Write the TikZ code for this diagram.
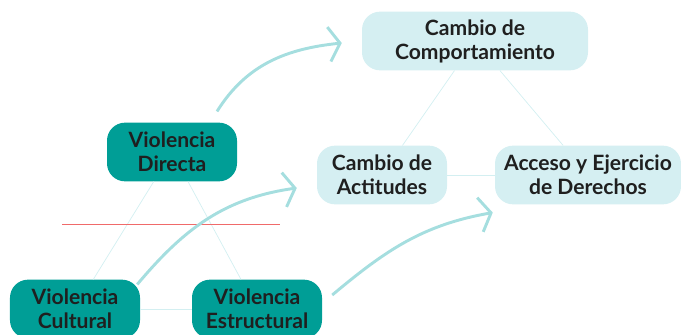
\documentclass[tikz,border=0pt]{standalone}
\usepackage{fontspec}
\setmainfont{Lato}
\usetikzlibrary{arrows.meta}
\definecolor{tealdark}{HTML}{009E96}
\definecolor{tealpale}{HTML}{D5EFF2}
\definecolor{arrowcyan}{HTML}{A5DEDF}
\definecolor{linkcyan}{HTML}{D3EFF1}
\definecolor{redline}{HTML}{F06A6A}
\begin{document}
\begin{tikzpicture}[x=0.3mm,y=0.3mm,
    box/.style={rounded corners=5.4mm,align=center,inner sep=0pt,
      minimum width=39mm,minimum height=17.6mm,text=black!88,
      font=\fontsize{18}{20.5}\selectfont\bfseries},
    violence/.style={box,fill=tealdark},
    change/.style={box,fill=tealpale},
    link/.style={draw=linkcyan,line width=0.6pt},
    flow/.style={draw=arrowcyan,line width=2.5pt,
      -{Straight Barb[length=3.3mm,width=10.4mm]}}]
    \useasboundingbox (0,0) rectangle (681,-334);
    \node[violence] (directa) at (172,-152) {Violencia\\Directa};
    \node[violence] (cultural) at (75,-309) {Violencia\\Cultural};
    \node[violence] (estructural) at (257,-309) {Violencia\\Estructural};
    \node[change,minimum width=67.8mm] (comportamiento) at (475,-41) {Cambio de\\Comportamiento};
    \node[change] (actitudes) at (382,-175) {Cambio de\\Actitudes};
    \node[change,minimum width=55.8mm] (acceso) at (588,-175) {Acceso y Ejercicio\\de Derechos};
    \draw[link] (directa) -- (cultural);
    \draw[link] (directa) -- (estructural);
    \draw[link] (cultural) -- (estructural);
    \draw[link] (comportamiento) -- (actitudes);
    \draw[link] (comportamiento) -- (acceso);
    \draw[link] (actitudes) -- (acceso);
    \draw[redline,line width=0.5pt] (62,-224) -- (280,-224);
    \draw[flow] ([shift={(45,11)}]directa.north) to[out=58,in=186] ([shift={(-20,-2)}]comportamiento.west);
    \draw[flow] ([shift={(-3,-5)}]cultural.north east) to[out=50,in=188] ([shift={(-20,-13)}]actitudes.west);
    \draw[flow] ([shift={(10,14)}]estructural.east) to[out=40,in=190] ([shift={(-2,-8)}]acceso.south west);
\end{tikzpicture}
\end{document}
